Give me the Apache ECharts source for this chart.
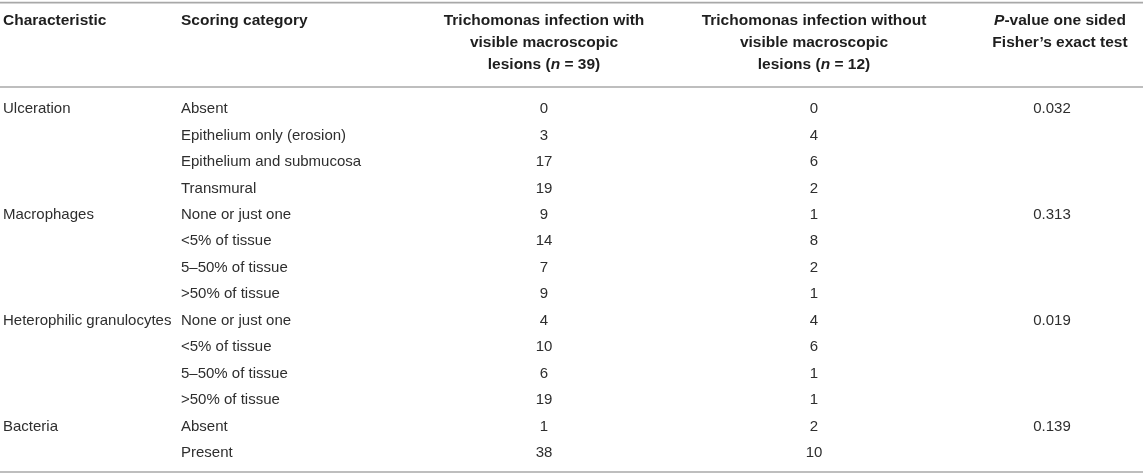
<!DOCTYPE html>
<html>
<head lang="en">
    <meta charset="UTF-8">
    <title>Trichomonas lesions table</title>
    <style>
        html, body { margin: 0; padding: 0; background: #fff; }
    </style>
</head>
<body>
<div id="tableChart" style="width: 1143px;height: 476px;"></div>
<script src="https://cdn.jsdelivr.net/npm/echarts@6/dist/echarts.min.js"></script>
<script>
    // table data
    var characteristics = ['Ulceration', 'Macrophages', 'Heterophilic granulocytes', 'Bacteria'];
    var characteristicRow = [0, 4, 8, 12];
    var scoringCategory = [
        'Absent', 'Epithelium only (erosion)', 'Epithelium and submucosa', 'Transmural',
        'None or just one', '<5% of tissue', '5–50% of tissue', '>50% of tissue',
        'None or just one', '<5% of tissue', '5–50% of tissue', '>50% of tissue',
        'Absent', 'Present'
    ];
    var withLesions = [0, 3, 17, 19, 9, 14, 7, 9, 4, 10, 6, 19, 1, 38];
    var withoutLesions = [0, 4, 6, 2, 1, 8, 2, 1, 4, 6, 1, 1, 2, 10];
    var pValues = ['0.032', '0.313', '0.019', '0.139'];

    var FONT = '"Liberation Sans", Arial, Helvetica, sans-serif';
    var BODY = '15px ' + FONT;
    var HEAD = 'bold 15.5px ' + FONT;
    // column anchors (left edge for text columns, centre for number columns)
    var colX = { c1: 3, c2: 181, c3: 544, c4: 814, c5: 1052, c5head: 1060 };

    var rowIdx = scoringCategory.map(function (v, i) { return i; });

    // one cell per data item: [x, row, text, align]
    var cells = [];
    characteristics.forEach(function (t, k) {
        cells.push([colX.c1, characteristicRow[k], t, 'left']);
        cells.push([colX.c5, characteristicRow[k], pValues[k], 'center']);
    });
    scoringCategory.forEach(function (t, i) {
        cells.push([colX.c2, i, t, 'left']);
        cells.push([colX.c3, i, String(withLesions[i]), 'center']);
        cells.push([colX.c4, i, String(withoutLesions[i]), 'center']);
    });

    function headText(x, y, text, align) {
        return {
            type: 'text', x: x, y: y, silent: true,
            style: {
                text: text, align: align || 'center', verticalAlign: 'middle',
                font: HEAD, fill: '#1e1e1e',
                rich: {
                    i: { font: 'italic bold 15.5px ' + FONT, fill: '#1e1e1e' }
                }
            }
        };
    }
    function rule(y) {
        return {
            type: 'line', silent: true,
            shape: { x1: 0, y1: y, x2: 1143, y2: y },
            style: { stroke: '#a8a8a8', lineWidth: 1.6 }
        };
    }

    var chart = echarts.init(document.getElementById('tableChart'));
    var option = {
        animation: false,
        grid: { left: 0, right: 0, top: 95.8, height: 370.3 },
        xAxis: { type: 'value', min: 0, max: 1143, show: false },
        yAxis: { type: 'category', data: rowIdx, inverse: true, show: false },
        series: [{
            type: 'custom',
            silent: true,
            data: cells,
            encode: { x: 0, y: 1 },
            renderItem: function (params, api) {
                var p = api.coord([api.value(0), api.value(1)]);
                var c = cells[params.dataIndex];
                return {
                    type: 'text',
                    x: p[0], y: p[1],
                    style: {
                        text: c[2], align: c[3], verticalAlign: 'middle',
                        font: BODY, fill: '#2e2e2e'
                    }
                };
            }
        }],
        graphic: [
            rule(2.6), rule(87), rule(472),
            headText(colX.c1, 21, 'Characteristic', 'left'),
            headText(colX.c2, 21, 'Scoring category', 'left'),
            headText(colX.c3, 21, 'Trichomonas infection with'),
            headText(colX.c3, 43, 'visible macroscopic'),
            headText(colX.c3, 65, 'lesions ({i|n} = 39)'),
            headText(colX.c4, 21, 'Trichomonas infection without'),
            headText(colX.c4, 43, 'visible macroscopic'),
            headText(colX.c4, 65, 'lesions ({i|n} = 12)'),
            headText(colX.c5head, 21, '{i|P}-value one sided'),
            headText(colX.c5head, 43, 'Fisher’s exact test')
        ]
    };
    chart.setOption(option);
</script>
</body>
</html>
